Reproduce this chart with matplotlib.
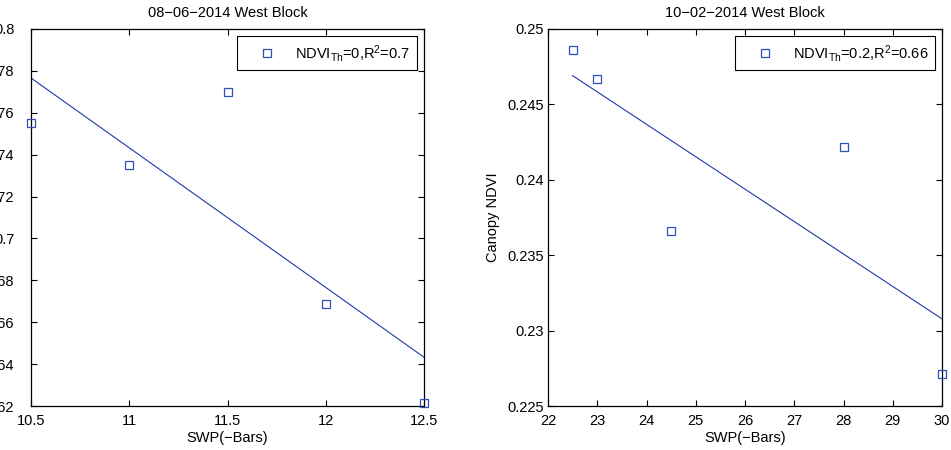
import numpy as np
import matplotlib
matplotlib.use("Agg")
import matplotlib.pyplot as plt
from matplotlib.ticker import FuncFormatter

plt.rcParams['font.family'] = ['Liberation Sans', 'DejaVu Sans']
plt.rcParams['mathtext.fontset'] = 'custom'
plt.rcParams['mathtext.rm'] = 'Liberation Sans'
plt.rcParams['mathtext.it'] = 'Liberation Sans:italic'

# 08-06-2014, West Block
swp_aug = [10.5, 11.0, 11.5, 12.0, 12.5]
ndvi_aug = [0.7549, 0.7349, 0.7698, 0.6688, 0.6213]
# 10-02-2014, West Block
swp_oct = [22.5, 23.0, 24.5, 28.0, 30.0]
ndvi_oct = [0.2486, 0.2467, 0.2366, 0.2422, 0.2271]

titles = ['08\u221206\u22122014 West Block', '10\u221202\u22122014 West Block']
labels = [r'NDVI$_{\mathrm{Th}}$=0,R$^{\mathrm{2}}$=0.7',
          r'NDVI$_{\mathrm{Th}}$=0.2,R$^{\mathrm{2}}$=0.66']
xlims = [(10.5, 12.5), (22, 30)]
ylims = [(0.62, 0.8), (0.225, 0.25)]
xticks = [np.arange(10.5, 12.51, 0.5), np.arange(22, 30.1, 1)]
yticks = [np.arange(0.62, 0.801, 0.02), np.arange(0.225, 0.2501, 0.005)]

mark_col = '#3050b8'
line_col = '#2038a8'
fs = 10.5

fig = plt.figure(figsize=(9.51, 4.5), dpi=100)
ax1 = fig.add_axes([31 / 951, 44 / 450, 393 / 951, 377 / 450])
ax2 = fig.add_axes([548 / 951, 44 / 450, 394 / 951, 377 / 450])

data = [(swp_aug, ndvi_aug), (swp_oct, ndvi_oct)]
for i, ax in enumerate([ax1, ax2]):
    x, y = np.array(data[i][0]), np.array(data[i][1])
    ax.plot(x, y, 's', mfc='none', mec=mark_col, ms=5.5, mew=0.9,
            label=labels[i], clip_on=False, zorder=3)
    p = np.polyfit(x, y, 1)
    xf = np.array([x.min(), x.max()])
    ax.plot(xf, np.polyval(p, xf), '-', color=line_col, lw=0.8)
    ax.set_xlim(*xlims[i])
    ax.set_ylim(*ylims[i])
    ax.set_xticks(xticks[i])
    ax.set_yticks(yticks[i])
    ax.xaxis.set_major_formatter(FuncFormatter(lambda v, pos: '%g' % round(v, 4)))
    ax.yaxis.set_major_formatter(FuncFormatter(lambda v, pos: '%g' % round(v, 4)))
    ax.tick_params(direction='in', top=True, right=True, length=4,
                   width=0.8, labelsize=fs)
    ax.tick_params(axis='x', pad=5.7)
    ax.tick_params(axis='y', pad=3)
    for s in ax.spines.values():
        s.set_linewidth(0.9)
    ax.set_title(titles[i], fontsize=fs, pad=9)
    ax.set_xlabel('SWP(\u2212Bars)', fontsize=fs, labelpad=2)
    ax.set_ylabel('Canopy NDVI', fontsize=fs, labelpad=5)
    leg = ax.legend(loc='upper right', fontsize=fs, frameon=True, fancybox=False,
                    framealpha=1, edgecolor='black', handlelength=3.2,
                    handletextpad=0.3, borderpad=0.45, borderaxespad=0.5)
    leg.get_frame().set_linewidth(0.8)

# left panel sits against the page edge, so its y labels run off the left side
ax1.tick_params(axis='y', pad=12)

fig.savefig('out.png', dpi=100)
